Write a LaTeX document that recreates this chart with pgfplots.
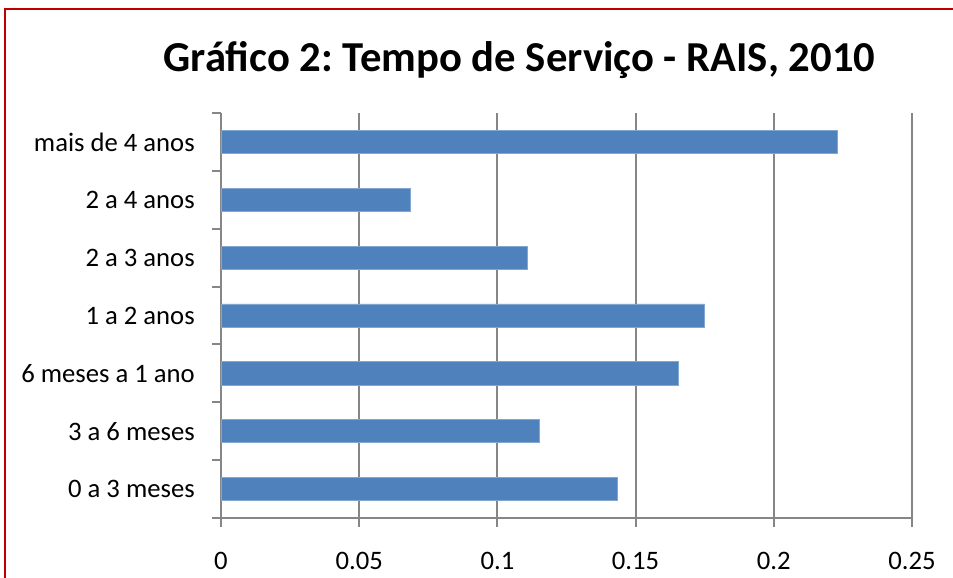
\documentclass[border=0pt]{standalone}
\usepackage{pgfplots}
\pgfplotsset{compat=1.18}
\usepackage{fontspec}
\setmainfont{Carlito}
\frenchspacing
\definecolor{barblue}{HTML}{4F81BD}
\definecolor{gridgray}{HTML}{868686}
\definecolor{bordred}{HTML}{C00000}
\begin{document}
\begin{tikzpicture}[x=0.75pt,y=0.75pt]
\useasboundingbox (0,0) rectangle (953,578);
\draw[bordred, line width=1.5pt] (5,0) -- (5,569) -- (953,569);
\node[font=\fontsize{32pt}{38pt}\selectfont\bfseries, anchor=base, inner sep=0pt] at (519.5,506) {Gráfico 2: Tempo de Serviço - RAIS, 2010};
\begin{axis}[
  at={(165.75pt,45pt)}, anchor=south west,
  scale only axis, width=518.25pt, height=303.75pt,
  xmin=0, xmax=0.25, ymin=-0.5, ymax=6.5,
  axis lines*=left,
  axis line style={gridgray, line width=1.5pt},
  xtick={0,0.05,0.1,0.15,0.2,0.25},
  xticklabels={0,0.05,0.1,0.15,0.2,0.25},
  xmajorgrids,
  grid style={gridgray, line width=1.5pt},
  tick align=outside,
  major tick length=6.75pt,
  xtick style={gridgray, line width=1.5pt},
  ytick={0,...,6},
  yticklabels={0 a 3 meses, 3 a 6 meses, 6 meses a 1 ano, 1 a 2 anos, 2 a 3 anos, 2 a 4 anos, mais de 4 anos},
  ytick style={draw=none},
  extra y ticks={-0.5,0.5,1.5,2.5,3.5,4.5,5.5,6.5},
  extra y tick labels={},
  extra y tick style={ytick style={draw=gridgray, line width=1.5pt}, grid=none},
  ticklabel style={font=\fontsize{20pt}{24pt}\selectfont, inner sep=0pt},
  yticklabel style={anchor=east, xshift=-12.75pt},
  xticklabel style={anchor=north, yshift=-18.75pt},
  xbar, bar width=0.4,
  clip=false,
]
\addplot[fill=barblue, draw=barblue!70!white, line width=0.5pt] coordinates {
(0.1435,0) (0.1151,1) (0.1655,2) (0.1750,3) (0.1110,4) (0.0684,5) (0.2231,6)};
\end{axis}
\end{tikzpicture}
\end{document}
